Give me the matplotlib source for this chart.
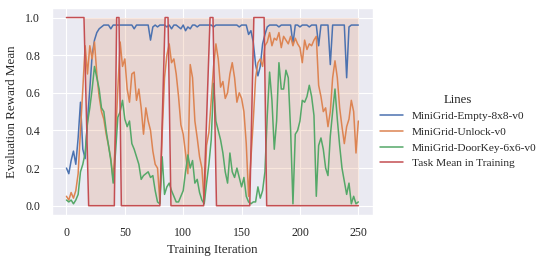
import matplotlib
matplotlib.use("Agg")
import matplotlib.pyplot as plt
import seaborn as sns

# evaluation every 2 iterations
iteration = list(range(0, 251, 2))

empty_8x8 = [
    0.20, 0.17, 0.24, 0.29, 0.22, 0.36, 0.55, 0.30, 0.25, 0.45,
    0.62, 0.80, 0.88, 0.92, 0.94, 0.95, 0.96, 0.96, 0.96, 0.94,
    0.96, 0.96, 0.96, 0.96, 0.96, 0.96, 0.96, 0.96, 0.96, 0.94,
    0.96, 0.96, 0.96, 0.96, 0.96, 0.96, 0.88, 0.95, 0.96, 0.95,
    0.96, 0.96, 0.96, 0.95, 0.96, 0.94, 0.96, 0.96, 0.95, 0.94,
    0.96, 0.93, 0.95, 0.94, 0.96, 0.96, 0.95, 0.96, 0.96, 0.96,
    0.96, 0.96, 0.96, 0.95, 0.96, 0.96, 0.96, 0.96, 0.96, 0.96,
    0.96, 0.96, 0.96, 0.96, 0.95, 0.96, 0.96, 0.96, 0.91, 0.93,
    0.87, 0.75, 0.69, 0.74, 0.86, 0.91, 0.95, 0.96, 0.96, 0.96,
    0.96, 0.95, 0.96, 0.96, 0.96, 0.96, 0.96, 0.86, 0.96, 0.96,
    0.95, 0.96, 0.96, 0.96, 0.95, 0.96, 0.96, 0.96, 0.85, 0.96,
    0.96, 0.96, 0.96, 0.75, 0.96, 0.96, 0.96, 0.96, 0.96, 0.96,
    0.68, 0.95, 0.96, 0.96, 0.96, 0.96,
]

unlock = [
    0.05, 0.03, 0.07, 0.04, 0.08, 0.17, 0.40, 0.62, 0.85, 0.70,
    0.85, 0.78, 0.87, 0.70, 0.58, 0.50, 0.46, 0.38, 0.32, 0.25,
    0.14, 0.35, 0.62, 0.87, 0.74, 0.78, 0.62, 0.55, 0.70, 0.71,
    0.56, 0.62, 0.52, 0.38, 0.52, 0.45, 0.40, 0.29, 0.22, 0.20,
    0.02, 0.38, 0.68, 0.80, 0.86, 0.76, 0.78, 0.70, 0.58, 0.43,
    0.38, 0.28, 0.17, 0.75, 0.68, 0.45, 0.36, 0.26, 0.20, 0.02,
    0.32, 0.39, 0.56, 0.74, 0.86, 0.78, 0.63, 0.66, 0.57, 0.60,
    0.70, 0.76, 0.68, 0.55, 0.60, 0.57, 0.50, 0.33, 0.05, 0.25,
    0.45, 0.68, 0.76, 0.78, 0.74, 0.85, 0.87, 0.92, 0.85, 0.89,
    0.88, 0.92, 0.84, 0.90, 0.88, 0.86, 0.90, 0.85, 0.89, 0.86,
    0.84, 0.76, 0.88, 0.83, 0.86, 0.85, 0.88, 0.90, 0.64, 0.58,
    0.50, 0.52, 0.42, 0.50, 0.68, 0.77, 0.68, 0.52, 0.42, 0.33,
    0.42, 0.46, 0.56, 0.50, 0.28, 0.45,
]

doorkey_6x6 = [
    0.03, 0.02, 0.03, 0.01, 0.03, 0.06, 0.18, 0.22, 0.28, 0.44,
    0.52, 0.62, 0.74, 0.68, 0.62, 0.52, 0.50, 0.40, 0.32, 0.24,
    0.12, 0.28, 0.47, 0.50, 0.56, 0.46, 0.42, 0.45, 0.33, 0.30,
    0.26, 0.22, 0.14, 0.16, 0.17, 0.18, 0.15, 0.16, 0.08, 0.02,
    0.01, 0.26, 0.06, 0.10, 0.12, 0.08, 0.05, 0.02, 0.02, 0.05,
    0.08, 0.18, 0.27, 0.20, 0.24, 0.12, 0.14, 0.07, 0.03, 0.01,
    0.12, 0.22, 0.35, 0.65, 0.45, 0.40, 0.35, 0.28, 0.18, 0.12,
    0.28, 0.18, 0.15, 0.20, 0.15, 0.10, 0.15, 0.05, 0.02, 0.01,
    0.02, 0.02, 0.10, 0.04, 0.08, 0.18, 0.48, 0.71, 0.56, 0.30,
    0.45, 0.76, 0.62, 0.62, 0.72, 0.68, 0.40, 0.01, 0.38, 0.40,
    0.45, 0.56, 0.55, 0.58, 0.64, 0.58, 0.48, 0.05, 0.32, 0.36,
    0.30, 0.20, 0.16, 0.37, 0.50, 0.62, 0.46, 0.32, 0.20, 0.13,
    0.06, 0.12, 0.01, 0.05, 0.01, 0.02,
]

# task mean in training: switches between 1 and 0
task_x = [0, 15, 19, 41, 43, 45, 47, 80, 84.5, 87, 89.5, 117.5, 123, 125.5,
          128.5, 157, 160.5, 169.3, 171.5, 250]
task_y = [1, 1, 0, 0, 1, 1, 0, 0, 1, 1, 0, 0, 1, 1, 0, 0, 1, 1, 0, 0]

labels = ["MiniGrid-Empty-8x8-v0", "MiniGrid-Unlock-v0",
          "MiniGrid-DoorKey-6x6-v0", "Task Mean in Training"]

sns.set_theme(style="darkgrid", context="paper")
plt.rcParams["font.family"] = ["Liberation Serif", "DejaVu Serif"]

fig = plt.figure(figsize=(5.46, 2.62), dpi=100)
ax = fig.add_axes([0.095, 0.179, 0.588, 0.790])

pal = sns.color_palette("deep")
ax.fill_between(task_x, task_y, 1, color=pal[1], alpha=0.2, linewidth=0)
lines = []
for ys, c, lab in zip([empty_8x8, unlock, doorkey_6x6], pal[:3], labels[:3]):
    ln, = ax.plot(iteration, ys, color=c, lw=1.1, label=lab)
    lines.append(ln)
ln, = ax.plot(task_x, task_y, color=pal[3], lw=1.1, label=labels[3])
lines.append(ln)

ax.set_xticks([0, 50, 100, 150, 200, 250])
ax.set_yticks([0.0, 0.2, 0.4, 0.6, 0.8, 1.0])
ax.tick_params(axis="both", labelsize=8.6, length=0, pad=8.5)
ax.set_xlabel("Training Iteration", fontsize=9.4, labelpad=4)
ax.set_ylabel("Evaluation Reward Mean", fontsize=9.4, labelpad=5)

fig.legend(handles=lines, loc="center left", bbox_to_anchor=(0.677, 0.5),
           frameon=False, title="Lines", fontsize=8.2, title_fontsize=9.2)

fig.savefig("out.png", dpi=100)
